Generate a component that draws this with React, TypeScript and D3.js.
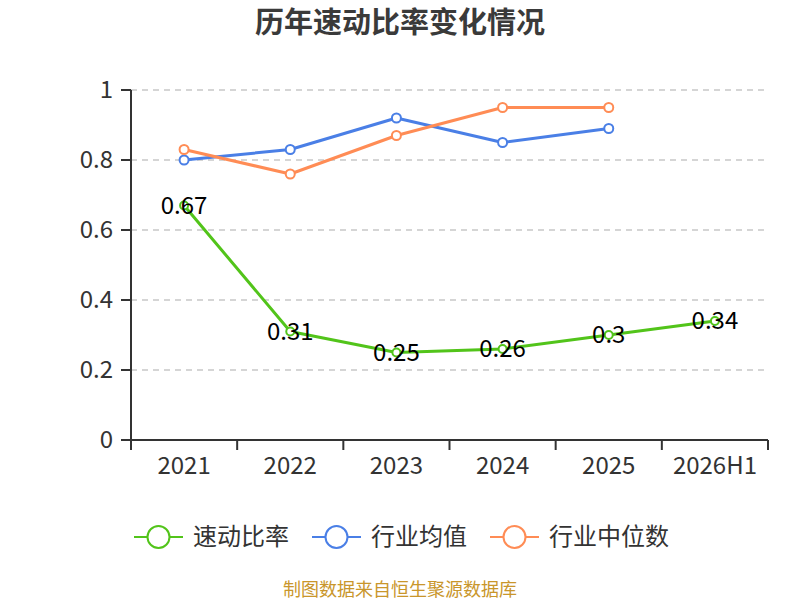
import React from 'react'
import * as d3 from 'd3'

const categories = ['2021', '2022', '2023', '2024', '2025', '2026H1']
const quickRatio = [0.67, 0.31, 0.25, 0.26, 0.3, 0.34]
const industryAvg = [0.8, 0.83, 0.92, 0.85, 0.89]
const industryMedian = [0.83, 0.76, 0.87, 0.95, 0.95]
const yTicks = [0, 0.2, 0.4, 0.6, 0.8, 1]

const legendNames = ['速动比率', '行业均值', '行业中位数']
const colors = ['#52c41a', '#4a7fe6', '#ff8c55']

const FONT = '"Noto Sans CJK SC", "Noto Sans", sans-serif'

export default function App() {
  const width = 800
  const height = 600
  const left = 131
  const right = 768
  const top = 90
  const bottom = 440

  const x = d3.scaleBand<string>().domain(categories).range([left, right]).padding(0)
  const y = d3.scaleLinear().domain([0, 1]).range([bottom, top])
  const cx = (c: string) => x(c)! + x.bandwidth() / 2

  const line = d3
    .line<number>()
    .x((_, i) => cx(categories[i]))
    .y(d => y(d))

  const series = [
    { values: industryAvg, color: colors[1], r: 4.5 },
    { values: industryMedian, color: colors[2], r: 4.5 },
    { values: quickRatio, color: colors[0], r: 4 },
  ]

  const legendX = [134, 312, 490]

  return (
    <svg width={width} height={height} style={{ position: 'absolute', left: 0, top: 0, fontFamily: FONT }}>
      <rect width={width} height={height} fill="#fff" />
      <text x={400} y={23} dy="0.35em" textAnchor="middle" fontSize={29} fontWeight="bold" fill="#3a3a3a">
        历年速动比率变化情况
      </text>

      {/* grid */}
      {yTicks.filter(t => t > 0).map(t => (
        <line key={t} x1={left} x2={right} y1={y(t)} y2={y(t)} stroke="#c8c8c8" strokeWidth={1.5} strokeDasharray="6 5" />
      ))}

      {/* y axis */}
      <line x1={left} x2={left} y1={top} y2={bottom} stroke="#333" strokeWidth={2} />
      {yTicks.map(t => (
        <g key={t}>
          <line x1={left - 10} x2={left} y1={y(t)} y2={y(t)} stroke="#333" strokeWidth={2} />
          <text x={left - 18} y={y(t)} dy="0.35em" textAnchor="end" fontSize={24} fill="#333">
            {d3.format('~g')(t)}
          </text>
        </g>
      ))}

      {/* x axis */}
      <line x1={left} x2={right} y1={bottom} y2={bottom} stroke="#333" strokeWidth={2} />
      {[...categories.map(c => x(c)!), right].map((px, i) => (
        <line key={i} x1={px} x2={px} y1={bottom} y2={bottom + 10} stroke="#333" strokeWidth={2} />
      ))}
      {categories.map(c => (
        <text key={c} x={cx(c)} y={466} dy="0.35em" textAnchor="middle" fontSize={24} fill="#333">
          {c}
        </text>
      ))}

      {/* series */}
      {series.map((s, si) => (
        <g key={si}>
          <path d={line(s.values)!} fill="none" stroke={s.color} strokeWidth={3} strokeLinejoin="round" />
          {s.values.map((v, i) => (
            <circle key={i} cx={cx(categories[i])} cy={y(v)} r={s.r} fill="#fff" stroke={s.color} strokeWidth={2} />
          ))}
        </g>
      ))}

      {/* labels */}
      {quickRatio.map((v, i) => (
        <text key={i} x={cx(categories[i])} y={y(v)} dy="0.35em" textAnchor="middle" fontSize={24} fill="#000">
          {d3.format('~g')(v)}
        </text>
      ))}

      {/* legend */}
      {legendNames.map((name, i) => (
        <g key={name} transform={`translate(${legendX[i]},537)`}>
          <line x1={0} x2={49} y1={0} y2={0} stroke={colors[i]} strokeWidth={2} />
          <circle cx={24.5} cy={0} r={11} fill="#fff" stroke={colors[i]} strokeWidth={2} />
          <text x={59} y={0} dy="0.35em" fontSize={24} fill="#333">
            {name}
          </text>
        </g>
      ))}

      <text x={400} y={590} dy="0.35em" textAnchor="middle" fontSize={18} fill="#c9962b">
        制图数据来自恒生聚源数据库
      </text>
    </svg>
  )
}
